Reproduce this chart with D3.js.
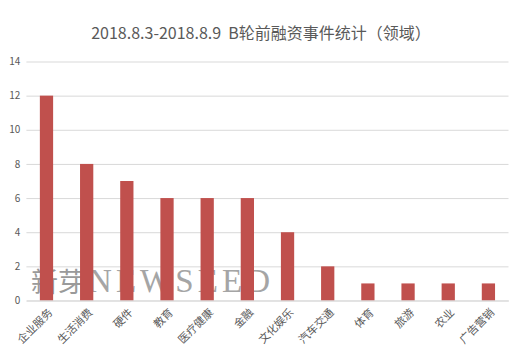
<!DOCTYPE html>
<html><head><meta charset="utf-8">
<script src="https://cdn.jsdelivr.net/npm/d3@7"></script>
<style>body{margin:0;background:#fff}svg{display:block}</style>
</head><body>
<script>
const categories = ["企业服务","生活消费","硬件","教育","医疗健康","金融","文化娱乐","汽车交通","体育","旅游","农业","广告营销"];
const values = [12,8,7,6,6,6,4,2,1,1,1,1];
const yTicks = [0,2,4,6,8,10,12,14];
const title = "2018.8.3-2018.8.9  B轮前融资事件统计（领域）";

const W=519,H=356;
const svg=d3.select("body").append("svg").attr("width",W).attr("height",H);
const x=d3.scaleBand().domain(categories).range([26.4,508.5]).paddingInner(0.67).paddingOuter(0.335);
const y=d3.scaleLinear().domain([0,14]).range([300.5,61.5]);
const font="'Microsoft YaHei','Noto Sans CJK SC',sans-serif";

svg.append("text").attr("x",261).attr("y",39).attr("text-anchor","middle")
 .style("white-space","pre").attr("xml:space","preserve")
 .attr("font-family",font).attr("font-size",16).attr("fill","#595959").text(title);

const ya=svg.append("g").attr("transform","translate(26.4,0)")
 .call(d3.axisLeft(y).tickValues(yTicks).tickSize(-(508.5-26.4)).tickFormat(d3.format("d")));
ya.select(".domain").remove();
ya.selectAll("line").attr("stroke","#d9d9d9").attr("stroke-width",1);
ya.selectAll("text").attr("font-family",font).attr("font-size",10).attr("fill","#595959").attr("x",-6);

// watermark (behind bars)
const wm=svg.append("g");
wm.append("text").attr("x",31).attr("y",292).attr("font-family","'Noto Sans CJK SC',sans-serif")
 .attr("font-size",27).attr("fill","#9a9a9a").text("新芽");
wm.append("line").attr("x1",85).attr("x2",85).attr("y1",268).attr("y2",293).attr("stroke","#aaa").attr("stroke-width",1);
wm.append("text").attr("x",88).attr("y",292).attr("font-family","'Liberation Serif',serif")
 .attr("font-size",33).attr("fill","#a5a5a5").attr("textLength",182).text("NEWSEED");

svg.append("g").selectAll("rect").data(values).join("rect")
 .attr("x",(d,i)=>x(categories[i])).attr("width",x.bandwidth())
 .attr("y",d=>y(d)).attr("height",d=>y(0)-y(d)).attr("fill","#c0504d");

const xa=svg.append("g").attr("transform","translate(0,300.5)").call(d3.axisBottom(x).tickSize(0));
xa.select(".domain").attr("stroke","#d9d9d9");
xa.selectAll("text").attr("font-family",font).attr("font-size",11).attr("fill","#595959")
 .attr("text-anchor","end").attr("dy","0.35em").attr("transform","translate(4,10) rotate(-45)").attr("x",0).attr("y",0);
</script>
</body></html>
